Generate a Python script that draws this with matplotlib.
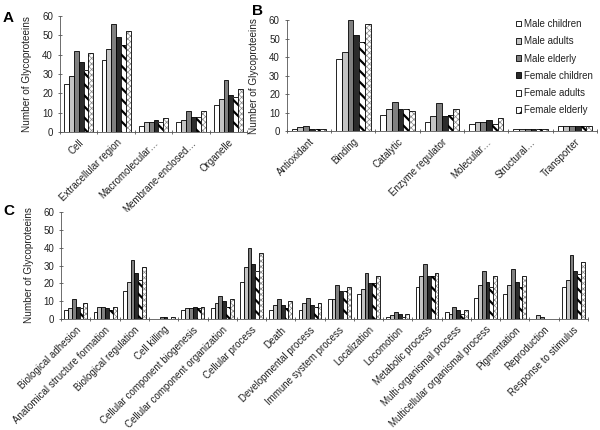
import numpy as np
import matplotlib.pyplot as plt
from matplotlib.patches import Patch

plt.rcParams['font.family'] = ['Liberation Sans', 'DejaVu Sans']

groups = ['Male children', 'Male adults', 'Male elderly',
          'Female children', 'Female adults', 'Female elderly']

# Panel A - cellular component
cats_a = ['Cell', 'Extracellular region', 'Macromolecular…',
          'Membrane-enclosed…', 'Organelle']
vals_a = [
    [25, 37, 3, 5, 14],
    [29, 43, 5, 6, 17],
    [42, 56, 5, 11, 27],
    [36, 49, 6, 8, 19],
    [32, 45, 5, 8, 18],
    [41, 52, 7, 11, 22],
]

# Panel B - molecular function
cats_b = ['Antioxidant', 'Binding', 'Catalytic', 'Enzyme regulator',
          'Molecular…', 'Structural…', 'Transporter']
vals_b = [
    [1, 39, 9, 5, 4, 1, 3],
    [2, 43, 12, 8, 5, 1, 3],
    [3, 60, 16, 15, 5, 1, 3],
    [1, 52, 12, 8, 6, 1, 3],
    [1, 48, 12, 9, 4, 1, 3],
    [1, 58, 11, 12, 7, 1, 3],
]

# Panel C - biological process
cats_c = ['Biological adhesion', 'Anatomical structure formation',
          'Biological regulation', 'Cell killing',
          'Cellular component biogenesis', 'Cellular component organization',
          'Cellular process', 'Death', 'Developmental process',
          'Immune system process', 'Localization', 'Locomotion',
          'Metabolic process', 'Multi-organismal process',
          'Multicellular organismal process', 'Pigmentation',
          'Reproduction', 'Response to stimulus']
vals_c = [
    [5, 4, 16, 0, 5, 6, 21, 5, 5, 11, 14, 1, 18, 4, 12, 14, 0, 18],
    [6, 7, 21, 0, 6, 9, 29, 8, 9, 11, 17, 2, 24, 3, 19, 19, 2, 22],
    [11, 7, 33, 1, 6, 13, 40, 11, 12, 19, 26, 4, 31, 7, 27, 28, 1, 36],
    [7, 6, 26, 1, 7, 10, 31, 8, 8, 16, 20, 3, 24, 5, 21, 21, 0, 27],
    [6, 5, 22, 0, 6, 7, 27, 6, 7, 16, 20, 1, 24, 3, 18, 18, 0, 25],
    [9, 7, 29, 1, 7, 11, 37, 10, 9, 18, 24, 3, 26, 5, 24, 24, 0, 32],
]

styles = [
    dict(color='white', hatch=None),
    dict(color='#c4c4c4', hatch=None),
    dict(color='#808080', hatch=None),
    dict(color='#2b2b2b', hatch=None),
    dict(color='white', hatch='\\\\\\', hc='black', hlw=1.6),
    dict(color='white', hatch='xxxxxx', hc='#888888', hlw=0.5),
]


def draw_panel(ax, cats, vals):
    n = len(cats)
    x = np.arange(n)
    w = 0.78 / 6
    for i, (v, st) in enumerate(zip(vals, styles)):
        pos = x - 0.39 + w * (i + 0.5)
        if st['hatch']:
            bars = ax.bar(pos, v, w, color=st['color'], edgecolor=st['hc'],
                          hatch=st['hatch'], linewidth=0)
            for b in bars:
                if hasattr(b, 'set_hatch_linewidth'):
                    b.set_hatch_linewidth(st['hlw'])
            ax.bar(pos, v, w, fill=False, edgecolor='black', linewidth=0.6)
        else:
            ax.bar(pos, v, w, color=st['color'], edgecolor='black',
                   linewidth=0.6)
    ax.set_xlim(-0.5, n - 0.5)
    ax.set_ylim(0, 60)
    ax.set_yticks(range(0, 61, 10))
    ax.set_xticks(x)
    ax.set_xticklabels(cats, rotation=45, ha='right',
                       rotation_mode='anchor', fontsize=7, color='#222222')
    ax.set_xticks(np.arange(n + 1) - 0.5, minor=True)
    ax.tick_params(axis='x', which='major', length=0, pad=4)
    ax.tick_params(axis='x', which='minor', length=3, width=0.6,
                   direction='inout', color='#555555')
    ax.tick_params(axis='y', labelsize=7, length=3, width=0.6,
                   direction='inout', color='#555555', labelcolor='#222222')
    for s in ['top', 'right']:
        ax.spines[s].set_visible(False)
    for s in ['left', 'bottom']:
        ax.spines[s].set_linewidth(0.6)
        ax.spines[s].set_color('#555555')
    ax.set_ylabel('Number of Glycoproteeins', fontsize=7.2, labelpad=7,
                  color='#222222')


fig = plt.figure(figsize=(6, 4.3), dpi=100)
ax_a = fig.add_axes([0.10, 0.693, 0.312, 0.27])
ax_b = fig.add_axes([0.478, 0.695, 0.517, 0.258])
ax_c = fig.add_axes([0.102, 0.258, 0.878, 0.249])

draw_panel(ax_a, cats_a, vals_a)
draw_panel(ax_b, cats_b, vals_b)
draw_panel(ax_c, cats_c, vals_c)

handles = []
for g, st in zip(groups, styles):
    if st['hatch']:
        handles.append(Patch(facecolor=st['color'], edgecolor='black',
                             hatch=st['hatch'][:2], linewidth=0.6, label=g))
    else:
        handles.append(Patch(facecolor=st['color'], edgecolor='black',
                             linewidth=0.6, label=g))
ax_b.legend(handles=handles, loc='upper left', bbox_to_anchor=(0.71, 1.09),
            frameon=False, fontsize=7, handlelength=0.55, handleheight=0.55,
            handletextpad=0.3, labelspacing=0.75, labelcolor='#222222')

fig.text(0.005, 0.975, 'A', fontsize=11, fontweight='bold', va='top')
fig.text(0.42, 0.99, 'B', fontsize=11, fontweight='bold', va='top')
fig.text(0.005, 0.525, 'C', fontsize=11, fontweight='bold', va='top')

fig.savefig('out.png', dpi=100)
